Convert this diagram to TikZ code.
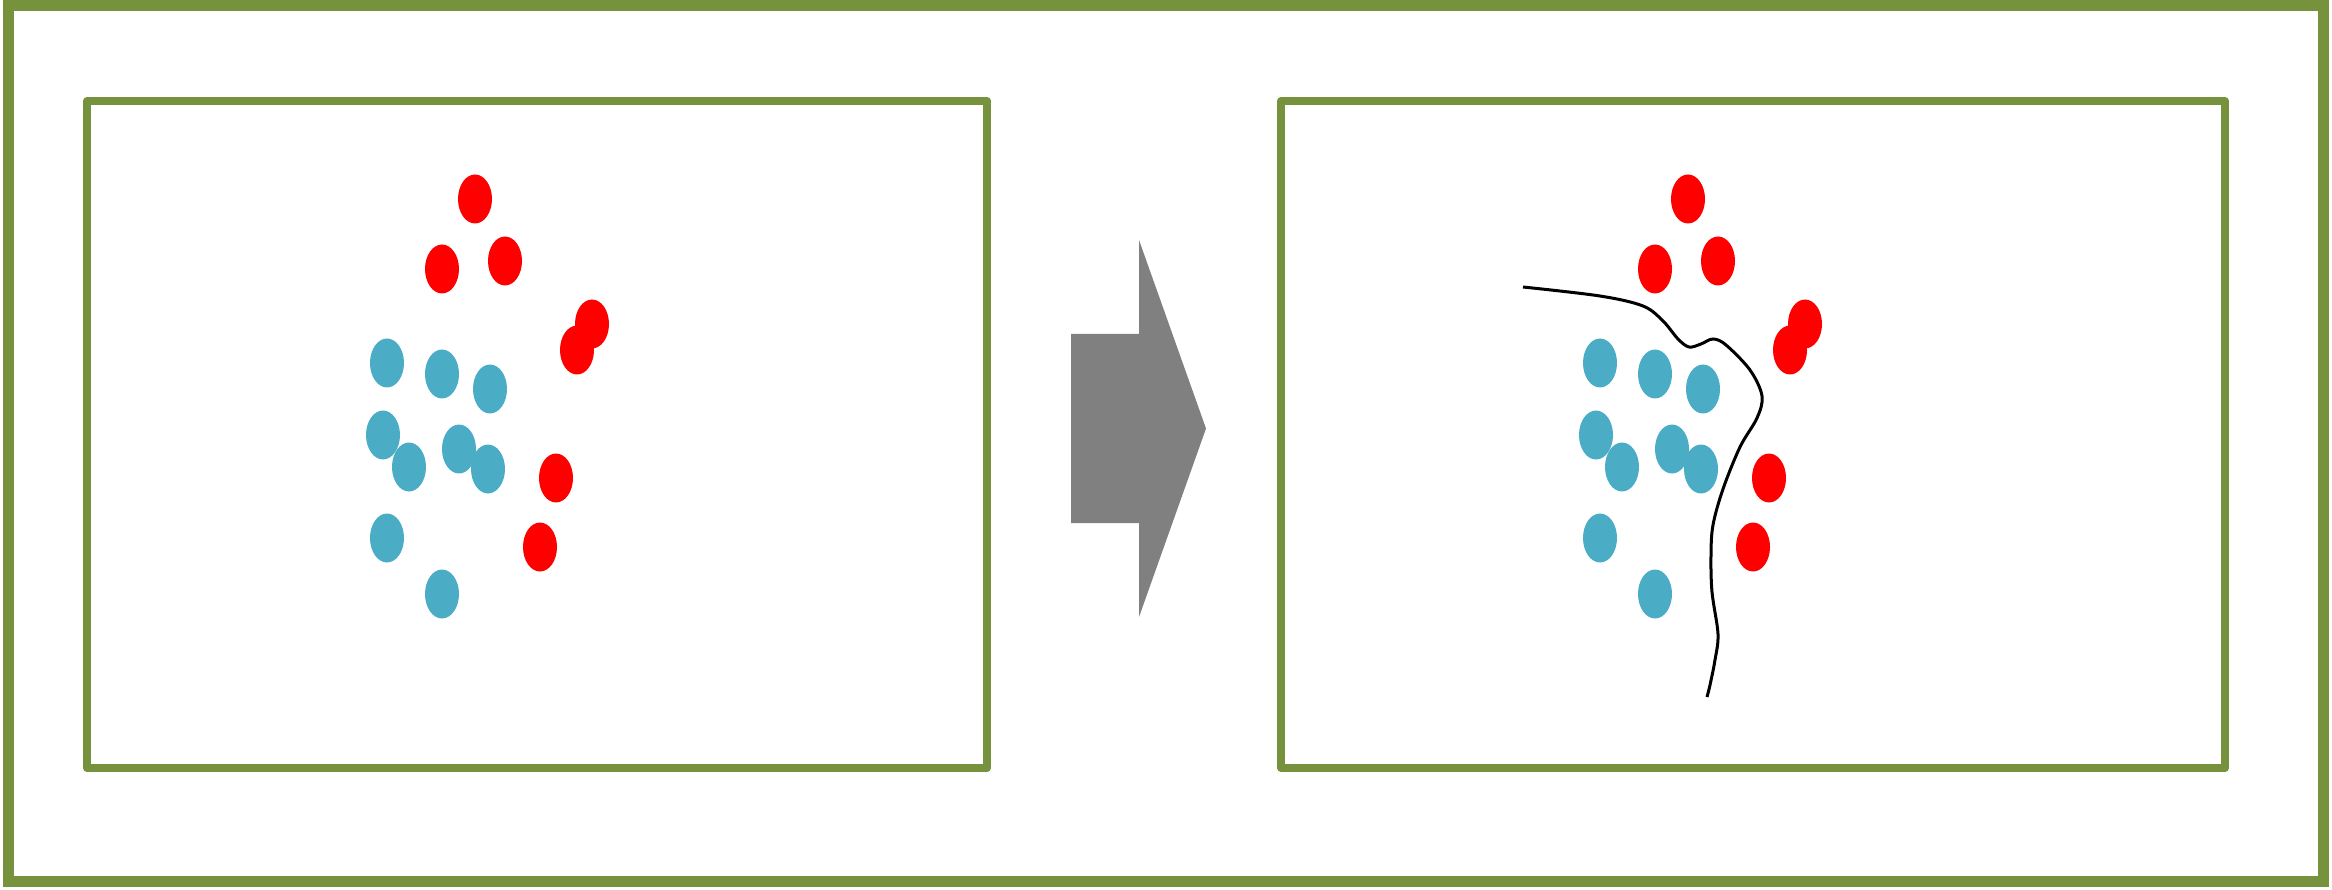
\documentclass[tikz,border=0pt]{standalone}
\usetikzlibrary{shapes.geometric}
\definecolor{frameg}{RGB}{118,146,60}
\definecolor{dotblue}{RGB}{75,172,198}
\definecolor{dotred}{RGB}{255,0,0}
\definecolor{arrowgray}{RGB}{128,128,128}
\tikzset{
  outerframe/.style={draw=frameg, line width=10.5pt},
  panel/.style={draw=frameg, line width=8pt, line join=round},
  dot/.style={ellipse, minimum width=34pt, minimum height=49pt, inner sep=0pt, draw=none},
  rdot/.style={dot, fill=dotred},
  bdot/.style={dot, fill=dotblue},
  bigarrow/.style={fill=arrowgray, draw=none},
  boundary/.style={draw=black, line width=3pt}
}
\begin{document}
\begin{tikzpicture}[x=1pt,y=-1pt]
\useasboundingbox (0,0) rectangle (2332,890);
\draw[outerframe] (8.5,5.5) rectangle (2323.5,881.5);
\draw[panel] (87,101) rectangle (987,768);
\draw[panel] (1281,101) rectangle (2225,768);
% arrow
\fill[bigarrow] (1071,334) -- (1139,334) -- (1139,240) -- (1206,428.5) -- (1139,617) -- (1139,523) -- (1071,523) -- cycle;
% dots, both panels
\foreach \dx/\p in {0/L,1213/R}{
  \node[bdot] (\p b1) at (387+\dx,363) {};
  \node[bdot] (\p b2) at (442+\dx,374) {};
  \node[bdot] (\p b3) at (490+\dx,389) {};
  \node[bdot] (\p b4) at (383+\dx,435) {};
  \node[bdot] (\p b5) at (409+\dx,467) {};
  \node[bdot] (\p b6) at (459+\dx,449) {};
  \node[bdot] (\p b7) at (488+\dx,469) {};
  \node[bdot] (\p b8) at (387+\dx,538) {};
  \node[bdot] (\p b9) at (442+\dx,594) {};
  \node[rdot] (\p r1) at (475+\dx,199) {};
  \node[rdot] (\p r2) at (442+\dx,269) {};
  \node[rdot] (\p r3) at (505+\dx,261) {};
  \node[rdot] (\p r4) at (592+\dx,324) {};
  \node[rdot] (\p r5) at (577+\dx,350) {};
  \node[rdot] (\p r6) at (556+\dx,478) {};
  \node[rdot] (\p r7) at (540+\dx,547) {};
}
% decision boundary
\draw[boundary] plot[smooth, tension=0.55] coordinates {
  (1523,287) (1600,296) (1643,306) (1663,321) (1678,339) (1689,347)
  (1701,344) (1713,339) (1726,345) (1750,370) (1762,396) (1757,418)
  (1740,447) (1723,489) (1713,525) (1711,555) (1712,592) (1718,634)
  (1715,660) (1710,685) (1707,697)};
\end{tikzpicture}
\end{document}
